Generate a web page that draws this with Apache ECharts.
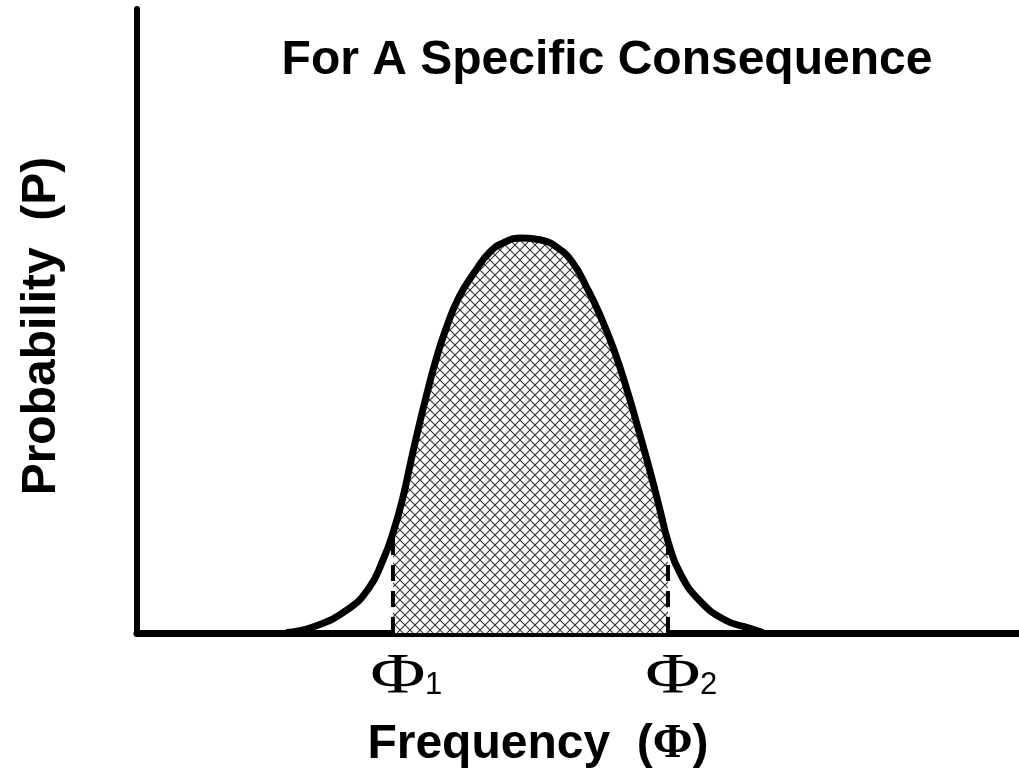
<!DOCTYPE html>
<html><head><meta charset="utf-8">
<script src="https://cdn.jsdelivr.net/npm/echarts@6/dist/echarts.min.js"></script>
<style>html,body{margin:0;padding:0;background:#fff}#c{width:1019px;height:774px}</style>
</head><body><div id="c"></div>
<script>
const titleText = 'For A Specific Consequence';
const xNameText = 'Frequency  ';
const xNameSymbol = 'Φ';
const yNameText = 'Probability  (P)';
const curveFreq = [16.89, 19.95, 23.81, 26.30, 27.89, 29.02, 30.16, 31.01, 31.86, 32.77, 33.79, 34.98, 36.51, 38.44, 39.91, 41.50, 43.65,
                   45.80, 47.73, 49.43, 51.02, 52.49, 54.08, 55.56, 57.03, 58.28, 59.30, 60.26, 61.56, 63.72, 66.67, 69.39, 70.98];
const curveProb = [0.08, 0.96, 3.69, 7.20, 11.70, 16.03, 21.79, 27.24, 32.53, 37.82, 43.27, 48.56, 53.85, 58.17, 60.90, 62.50, 63.30,
                   62.98, 61.70, 59.29, 55.29, 50.96, 45.35, 38.94, 31.73, 25.32, 19.71, 14.42, 9.62, 5.29, 2.08, 0.80, 0.08];
const boundFreq = [29.02, 60.20];
const boundProb = [16.03, 14.5];
const boundSymbol = 'Φ';
const boundSubs = ['1', '2'];

function hatch() {
  const c = document.createElement('canvas');
  c.width = 10; c.height = 10;
  const g = c.getContext('2d');
  g.fillStyle = '#fff'; g.fillRect(0, 0, 10, 10);
  g.strokeStyle = '#333'; g.lineWidth = 1.1;
  for (let k = -1; k <= 1; k++) {
    g.beginPath();
    g.moveTo(k * 10 - 5, -5); g.lineTo(k * 10 + 15, 15);
    g.moveTo(k * 10 - 5, 15); g.lineTo(k * 10 + 15, -5);
    g.stroke();
  }
  return c;
}

const chart = echarts.init(document.getElementById('c'), null, { renderer: 'canvas' });
const curve = curveFreq.map((x, i) => [x, curveProb[i]]);
const shaded = [[boundFreq[0], boundProb[0]]]
  .concat(curve.filter(p => p[0] > boundFreq[0] && p[0] < boundFreq[1]))
  .concat([[boundFreq[1], boundProb[1]]]);

const dashSeries = boundFreq.map((b, i) => ({
  type: 'line', data: [[b, 0], [b, boundProb[i]]], symbol: 'none', silent: true, z: 2,
  lineStyle: { color: '#000', width: 4, type: [16, 10] }
}));

chart.setOption({
  animation: false,
  grid: { left: 137, right: 0, top: 9, bottom: 141 },
  xAxis: { type: 'value', min: 0, max: 100,
    axisLine: { show: true, onZero: false, lineStyle: { color: '#000', width: 7 } },
    axisTick: { show: false }, axisLabel: { show: false }, splitLine: { show: false } },
  yAxis: { type: 'value', min: 0, max: 100,
    axisLine: { show: true, onZero: false, lineStyle: { color: '#000', width: 6 } },
    axisTick: { show: false }, axisLabel: { show: false }, splitLine: { show: false } },
  series: [
    { type: 'line', data: shaded, smooth: 0.5, symbol: 'none', silent: true, z: 1,
      lineStyle: { width: 0, opacity: 0 },
      areaStyle: { color: { image: hatch(), repeat: 'repeat' }, opacity: 1 } },
    ...dashSeries,
    { type: 'line', data: curve, smooth: 0.5, symbol: 'none', silent: true, z: 3,
      lineStyle: { color: '#000', width: 7, join: 'round' } }
  ]
});

const sans = '"Liberation Sans", Arial, Helvetica, sans-serif';
const serif = '"Liberation Serif", "Times New Roman", serif';
const graphics = [
  { type: 'text', x: 607, y: 61, style: { text: titleText, x: 0, y: 0, fill: '#000',
      font: 'bold 48px ' + sans, align: 'center', verticalAlign: 'middle' } },
  { type: 'text', x: 538, y: 745, style: { text: xNameText + '({s|' + xNameSymbol + '})', x: 0, y: 0, fill: '#000',
      font: 'bold 48px ' + sans, align: 'center', verticalAlign: 'middle',
      rich: { s: { fontFamily: serif, fontWeight: 'bold', fontSize: 48 } } } },
  { type: 'text', x: 42, y: 326, rotation: Math.PI / 2, style: { text: yNameText, x: 0, y: 0, fill: '#000',
      font: 'bold 48px ' + sans, align: 'center', verticalAlign: 'middle' } }
];
boundFreq.forEach((b, i) => {
  const px = chart.convertToPixel({ xAxisIndex: 0 }, b);
  const cx = px + 5;
  graphics.push({ type: 'text', x: cx, y: 678, scaleX: 1.35, style: { text: boundSymbol, x: 0, y: 0, fill: '#000',
      font: '56px ' + serif, align: 'center', verticalAlign: 'middle' } });
  graphics.push({ type: 'text', x: cx + 27, y: 685, style: { text: boundSubs[i], x: 0, y: 0, fill: '#000',
      font: '31px ' + sans, align: 'left', verticalAlign: 'middle' } });
});
chart.setOption({ graphic: graphics });
</script>
</body></html>
